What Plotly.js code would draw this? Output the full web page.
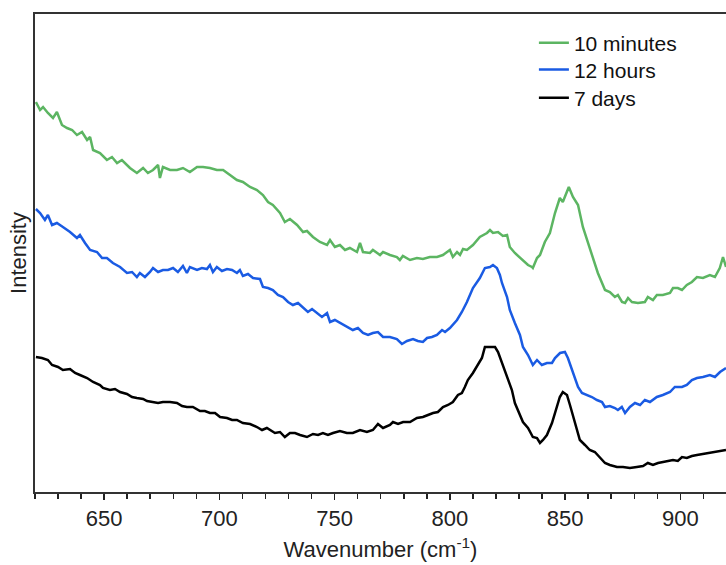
<!DOCTYPE html>
<html>
<head>
<meta charset="utf-8">
<script src="https://cdn.plot.ly/plotly-3.0.1.min.js"></script>
<style>html,body{margin:0;padding:0;background:#fff;}#chart{width:726px;height:565px;}</style>
</head>
<body>
<div id="chart"></div>
<script>
// Wavenumber (cm^-1) and intensity (arbitrary units)
const greenX = [620.4,622.2,623.5,625.6,627.8,629.5,631.7,633.9,636.1,638.2,640.4,642.6,643.9,645.2,648.2,651.2,653.4,655.6,657.7,659.9,661.2,664.2,666.9,669.0,671.2,673.4,674.2,675.5,678.6,681.6,684.2,687.2,690.3,692.9,695.9,698.9,701.6,704.6,707.6,710.2,713.3,716.3,718.9,721.1,723.2,726.3,728.4,730.6,733.7,736.3,738.0,740.6,743.6,746.7,748.0,750.1,752.3,754.5,756.6,759.7,761.0,762.3,765.3,766.6,769.7,771.0,774.0,777.0,778.3,779.6,782.7,785.7,788.3,791.3,794.4,797.0,800.0,801.3,803.1,804.4,805.7,807.4,810.0,813.0,816.1,817.4,818.7,820.9,823.0,824.8,826.0,828.2,830.4,832.6,833.9,835.6,836.0,837.8,839.1,841.2,843.4,845.6,847.7,849.0,851.6,853.4,855.6,857.7,859.9,862.1,864.2,867.3,869.4,871.6,872.9,874.7,876.0,877.3,879.0,881.6,884.6,885.9,888.1,889.8,892.4,895.5,896.8,898.9,900.7,902.8,905.0,907.2,909.8,912.8,915.0,917.1,918.5,919.8];
const greenY = [390,382,385,379,374,380,367,364,362,357,360,352,355,342,339,332,335,329,332,327,324,319,324,319,322,327,314,325,322,322,324,320,325,325,324,322,322,317,312,310,305,302,297,290,287,279,270,273,267,260,261,255,250,247,252,245,247,242,244,240,249,240,239,242,237,240,237,235,232,236,232,234,233,235,235,237,242,235,240,237,243,242,247,255,259,262,259,260,256,257,245,239,234,230,227,225,224,234,237,250,259,279,294,290,305,295,287,265,249,234,219,202,200,195,197,190,189,194,190,189,190,195,192,197,197,199,204,204,202,207,210,215,214,217,215,224,235,225];

const blueX = [620.4,622.2,624.3,625.6,627.4,629.5,632.1,635.2,638.2,639.5,641.7,643.9,646.9,649.1,651.2,653.8,656.9,659.9,662.1,664.2,665.5,667.7,669.9,671.2,673.4,675.5,677.7,679.9,682.0,684.2,685.9,687.2,690.3,692.4,694.6,695.9,697.2,698.9,701.1,703.3,705.5,707.6,708.9,710.2,712.4,714.6,717.6,718.9,721.1,723.2,725.4,727.6,729.8,731.9,734.1,736.3,738.4,740.2,742.3,744.5,746.7,748.0,750.1,752.3,755.3,757.9,760.1,762.3,764.5,766.6,768.8,771.0,774.0,777.0,779.2,781.4,784.0,786.1,788.3,790.1,792.2,794.4,796.6,797.9,800.0,803.1,805.2,807.4,810.0,813.0,815.2,817.4,818.7,820.4,821.7,822.6,824.8,826.0,828.2,830.4,831.7,833.9,836.0,837.8,839.9,842.1,844.3,845.6,847.8,849.9,851.2,853.4,855.6,857.3,859.5,861.6,863.8,866.0,867.3,869.4,871.6,872.9,874.6,876.0,878.1,880.3,882.5,884.6,886.8,889.8,892.4,895.5,897.6,900.7,902.8,905.0,907.2,909.8,912.8,915.0,917.2,919.8];
const blueY = [283,279,272,277,267,269,265,260,254,257,249,242,240,234,234,229,225,219,220,215,219,215,220,224,220,222,222,224,220,226,219,225,222,224,223,227,220,225,221,223,222,219,222,216,218,214,213,205,204,202,197,195,190,187,189,184,180,183,179,175,179,170,172,169,165,162,164,159,157,159,160,155,155,153,148,151,153,151,150,154,155,157,162,160,164,172,180,190,204,214,224,225,227,224,217,209,195,182,169,157,145,137,127,132,127,129,129,134,139,140,134,119,105,99,97,95,92,90,85,86,84,82,85,79,85,89,87,92,90,95,97,100,105,105,107,112,114,115,117,115,120,124];

const blackX = [620.4,623.0,625.6,627.4,630.0,632.1,635.2,637.4,639.5,642.6,645.2,648.2,649.5,652.5,654.7,656.9,659.9,662.1,664.2,666.9,668.6,671.2,673.4,675.5,678.6,681.6,683.8,685.9,688.5,691.6,693.7,695.9,698.1,700.3,703.3,705.5,707.6,710.2,713.3,716.3,718.5,720.6,721.9,724.1,726.3,728.4,730.6,732.8,735.0,738.0,740.6,742.8,744.9,747.1,749.3,752.3,755.3,757.9,761.0,764.0,766.6,768.8,771.0,774.0,775.3,777.5,779.7,782.7,785.7,788.3,790.5,792.7,794.8,797.0,799.2,801.3,803.5,805.2,806.5,807.8,810.0,812.2,813.9,815.2,817.4,819.6,820.9,821.7,823.0,825.2,826.9,828.2,830.4,831.7,833.9,836.0,837.8,839.1,840.4,842.1,844.3,846.4,847.7,849.0,850.8,852.1,854.2,856.4,858.6,860.7,862.9,865.1,867.3,869.4,872.5,875.1,878.1,881.1,883.8,885.9,888.1,890.3,892.4,894.6,896.8,898.9,900.7,902.8,905.0,907.2,909.8,912.8,915.9,919.8];
const blackY = [135,134,132,127,125,122,123,119,117,114,110,107,104,102,103,100,98,95,94,93,91,90,89,90,90,89,86,85,85,81,81,79,79,75,74,72,72,69,68,65,62,64,62,59,60,55,59,59,57,55,58,57,59,57,59,61,59,59,62,60,62,68,64,67,70,68,70,70,74,75,77,79,80,85,87,90,97,99,105,112,119,127,134,145,145,145,140,135,125,112,102,89,77,70,64,55,54,49,52,57,69,85,95,100,97,87,69,52,47,42,40,34,29,27,25,25,24,25,26,29,27,29,30,31,32,31,35,34,36,37,38,39,40,42];

const seriesNames = ['10 minutes', '12 hours', '7 days'];
const xTickVals = [650, 700, 750, 800, 850, 900];

const FONT = 'Liberation Sans, Arial, sans-serif';
const traces = [
  {x: greenX, y: greenY, name: seriesNames[0], legend: 'legend', line: {color: '#5cb562', width: 2.5}},
  {x: blueX, y: blueY, name: seriesNames[1], legend: 'legend2', line: {color: '#1a5be3', width: 2.5}},
  {x: blackX, y: blackY, name: seriesNames[2], legend: 'legend3', line: {color: '#000000', width: 2.5}}
].map(t => Object.assign({type: 'scatter', mode: 'lines'}, t));

function leg(yc) {
  return {x: 0.722, xanchor: 'left', y: yc, yanchor: 'middle', bgcolor: 'rgba(0,0,0,0)',
          font: {family: FONT, size: 21, color: '#111'}};
}

const layout = {
  width: 726, height: 565,
  margin: {l: 35, r: 0, t: 14, b: 73},
  paper_bgcolor: '#fff', plot_bgcolor: '#fff',
  font: {family: FONT, size: 22, color: '#222'},
  showlegend: true,
  legend: leg(0.939),
  legend2: leg(0.883),
  legend3: leg(0.824),
  xaxis: {
    range: [620, 919.8],
    tickvals: xTickVals,
    ticktext: xTickVals.map(String),
    ticks: 'outside', ticklen: 6, tickwidth: 1.5, tickcolor: '#222',
    minor: {dtick: 10, tick0: 620, ticks: 'outside', ticklen: 5, tickwidth: 1.5, tickcolor: '#222', showgrid: false},
    showline: true, linecolor: '#333', linewidth: 2, mirror: true,
    showgrid: false, zeroline: false,
    tickfont: {family: FONT, size: 22, color: '#222'},
    title: {text: 'Wavenumber (cm<sup>-1</sup>)', font: {family: FONT, size: 22, color: '#222'}, standoff: 11}
  },
  yaxis: {
    range: [0, 478],
    showline: true, linecolor: '#333', linewidth: 2, mirror: false,
    showticklabels: false, ticks: '', showgrid: false, zeroline: false,
    title: {text: 'Intensity', font: {family: FONT, size: 22, color: '#222'}, standoff: 0}
  }
};

Plotly.newPlot('chart', traces, layout, {displayModeBar: false, staticPlot: true});
</script>
</body>
</html>
